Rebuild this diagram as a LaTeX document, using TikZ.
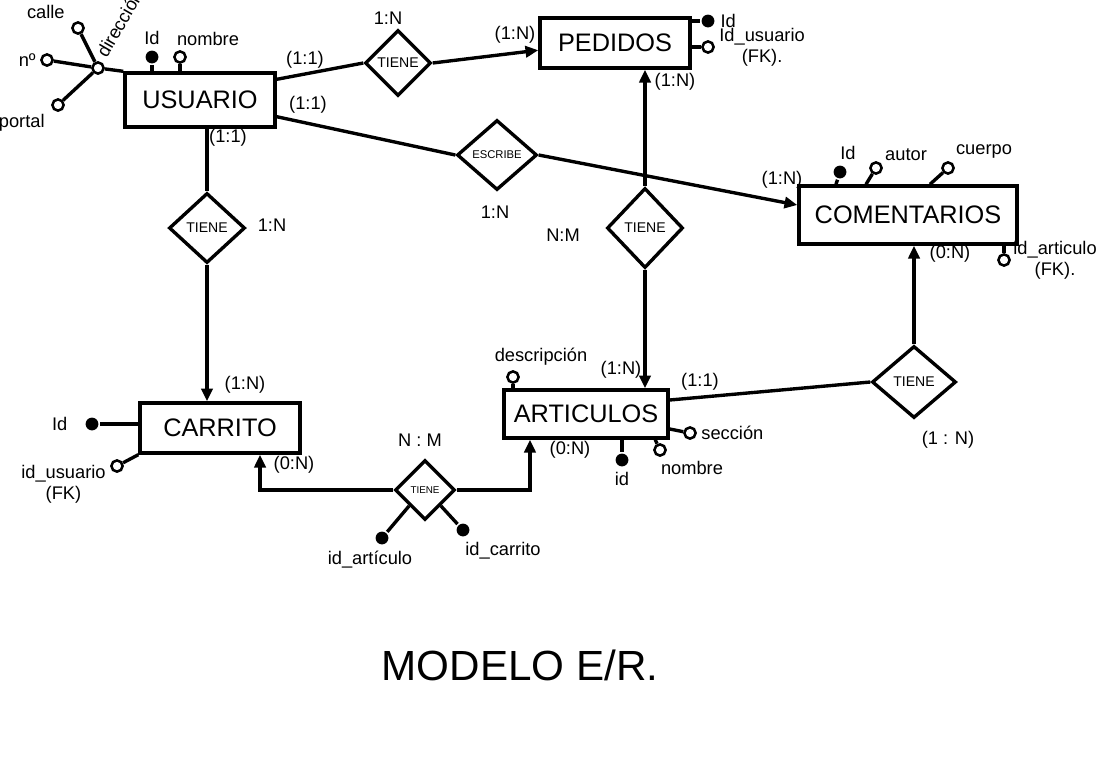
\documentclass[tikz,border=0pt]{standalone}
\usepackage{fontspec}
\setmainfont{Liberation Sans}
\usetikzlibrary{
  arrows.meta,
  positioning,
  shapes.geometric,
  calc,
}

\begin{document}
\begin{tikzpicture}[
    x=0.025cm, y=-0.025cm,
    line width=2.4pt,
    ent/.style={rectangle, draw, line width=2.4pt, minimum width=#1, minimum height=1.35cm, font=\fontsize{18}{20}\selectfont},
    ent/.default=3.75cm,
    rel/.style 2 args={diamond, draw, line width=2.4pt, inner sep=0pt, minimum width=#1, minimum height=#2, font=\fontsize{10}{12}\selectfont},
    key/.style={circle, fill=black, inner sep=0pt, minimum size=0.32cm},
    att/.style={circle, draw, fill=white, line width=1.8pt, inner sep=0pt, minimum size=0.28cm},
    card/.style={font=\fontsize{13}{15}\selectfont},
    arr/.style={-{Triangle[length=0.32cm,width=0.28cm]}},
    every label/.style={font=\fontsize{13}{15}\selectfont, inner sep=2pt},
  ]
  \useasboundingbox (0,0) rectangle (1104,765);

  \node[ent] (usu) at (200,100) {USUARIO};
  \node[ent, minimum height=1.25cm] (ped) at (615,43) {PEDIDOS};
  \node[ent=5.45cm, minimum height=1.45cm] (com) at (908,215) {COMENTARIOS};
  \node[ent=4cm, minimum height=1.25cm] (car) at (220,428) {CARRITO};
  \node[ent=4.1cm, minimum height=1.2cm] (art) at (586,414) {ARTICULOS};

  \node[rel={1.65cm}{1.65cm}] (t1) at (398,63) {TIENE};
  \node[rel={2cm}{1.75cm}, font=\fontsize{8}{10}\selectfont] (esc) at (497,155) {ESCRIBE};
  \node[rel={1.9cm}{1.75cm}] (t3) at (207,228) {TIENE};
  \node[rel={1.9cm}{2cm}] (t4) at (645,228) {TIENE};
  \node[rel={2.1cm}{1.8cm}] (t5) at (914,382) {TIENE};
  \node[rel={1.5cm}{1.5cm}, font=\fontsize{7}{8}\selectfont] (t6) at (425,490) {TIENE};

  \draw ([yshift=-0.2cm]usu.north east) -- (t1.west);
  \draw[arr] (t1.east) -- ([yshift=-0.18cm]ped.west);
  \draw ([yshift=0.3cm]usu.south east) -- (esc.west);
  \draw[arr] (esc.east) -- ([yshift=0.25cm]com.west);
  \draw (usu.south -| t3.north) -- (t3.north);
  \draw[arr] (t3.south) -- (t3.south |- car.north);
  \draw[arr] (t4.north) -- (t4.north |- ped.south);
  \draw[arr] (t4.south) -- (t4.south |- art.north);
  \draw ([yshift=0.35cm]art.east) -- (t5.west);
  \draw[arr] (t5.north) -- (t5.north |- com.south);
  \draw[arr] (t6.west) -| ([xshift=1cm]car.south);
  \draw[arr] (t6.east) -| ([xshift=-1.4cm]art.south);

  % atributos usuario
  \node[key, label=above:Id] (uid) at (152,57) {};
  \node[att, label={[xshift=0.7cm]above:nombre}] (unom) at (180,57) {};
  \node[att] (udir) at (98,68) {};
  \node[att, label={[xshift=-0.1cm]above left:calle}] (ucal) at (78,28) {};
  \node[att, label=left:nº] (unum) at (47,60) {};
  \node[att, label={[xshift=-0.1cm]below left:portal}] (upor) at (58,105) {};
  \node[card, rotate=60, anchor=base west, inner sep=0pt] (tdir) at (106,60) {dirección};
  \draw (uid) -- (uid |- usu.north);
  \draw (unom) -- (unom |- usu.north);
  \draw (udir) -- (usu.north west);
  \foreach \a in {ucal, unum, upor}
    \draw (\a) -- (udir);

  % atributos pedidos
  \node[key, label=right:Id] (pid) at (708,21) {};
  \node[att, label={[align=center]right:Id\_usuario\\(FK).}] (pfk) at (708,47) {};
  \draw (pid) -- (pid -| ped.east);
  \draw (pfk) -- (pfk -| ped.east);

  % atributos comentarios
  \node[key, label={[xshift=0.2cm]above:Id}] (cid) at (840,172) {};
  \node[att, label={[xshift=0.75cm, yshift=-0.1cm]above:autor}] (caut) at (876,168) {};
  \node[att, label={[xshift=0.9cm, yshift=-0.05cm]above:cuerpo}] (ccue) at (948,168) {};
  \node[att, label={[align=center, xshift=-0.05cm]right:id\_articulo\\(FK).}] (cfk) at (1004,260) {};
  \draw (cid) -- ([xshift=-0.1cm]cid |- com.north);
  \draw (caut) -- ([xshift=-0.25cm]caut |- com.north);
  \draw (ccue) -- ([xshift=-0.45cm]ccue |- com.north);
  \draw (cfk) -- (cfk |- com.south);

  % atributos carrito
  \node[key, label={[xshift=-0.3cm]left:Id}] (kid) at (92,424) {};
  \node[att, label={[align=center, yshift=-0.45cm]left:id\_usuario\\(FK)}] (kfk) at (117,466) {};
  \draw (kid) -- (kid -| car.west);
  \draw (kfk) -- (car.south west);

  % atributos articulos
  \node[att, label={[xshift=0.7cm]above:descripción}] (ades) at (513,377) {};
  \node[key, label=below:id] (aid) at (622,460) {};
  \node[att, label={[xshift=0.8cm]below:nombre}] (anom) at (660,450) {};
  \node[att, label=right:sección] (asec) at (690,433) {};
  \draw (ades) -- (ades |- art.north);
  \draw (aid) -- (aid |- art.south);
  \draw (anom) -- ([xshift=-0.12cm]anom |- art.south);
  \draw (asec) -- ([yshift=0.1cm]asec -| art.east);

  % atributos tiene (carrito-articulos)
  \node[key, label={[xshift=-0.3cm]below:id\_artículo}] (rida) at (382,538) {};
  \node[key, label={[xshift=1cm]below:id\_carrito}] (ridc) at (463,530) {};
  \draw (rida) -- (t6.south west);
  \draw (ridc) -- (t6.south east);

  \foreach \n/\x/\y/\t in {1/305/60/{(1:1)}, 2/388/18/{1:N}, 3/515/35/{(1:N)},
      4/308/105/{(1:1)}, 5/495/212/{1:N}, 6/782/180/{(1:N)},
      7/228/138/{(1:1)}, 8/272/225/{1:N}, 9/245/385/{(1:N)},
      10/675/82/{(1:N)}, 11/563/235/{N:M}, 12/621/370/{(1:N)},
      13/700/382/{(1:1)}, 14/950/254/{(0:N)}, 15/948/440/{(1 : N)},
      16/294/465/{(0:N)}, 17/420/440/{N : M}, 18/570/450/{(0:N)}}
    \node[card] (c\n) at (\x,\y) {\t};

  \node[font=\fontsize{30}{36}\selectfont] (titulo) at (520,665) {MODELO E/R.};
\end{tikzpicture}
\end{document}
